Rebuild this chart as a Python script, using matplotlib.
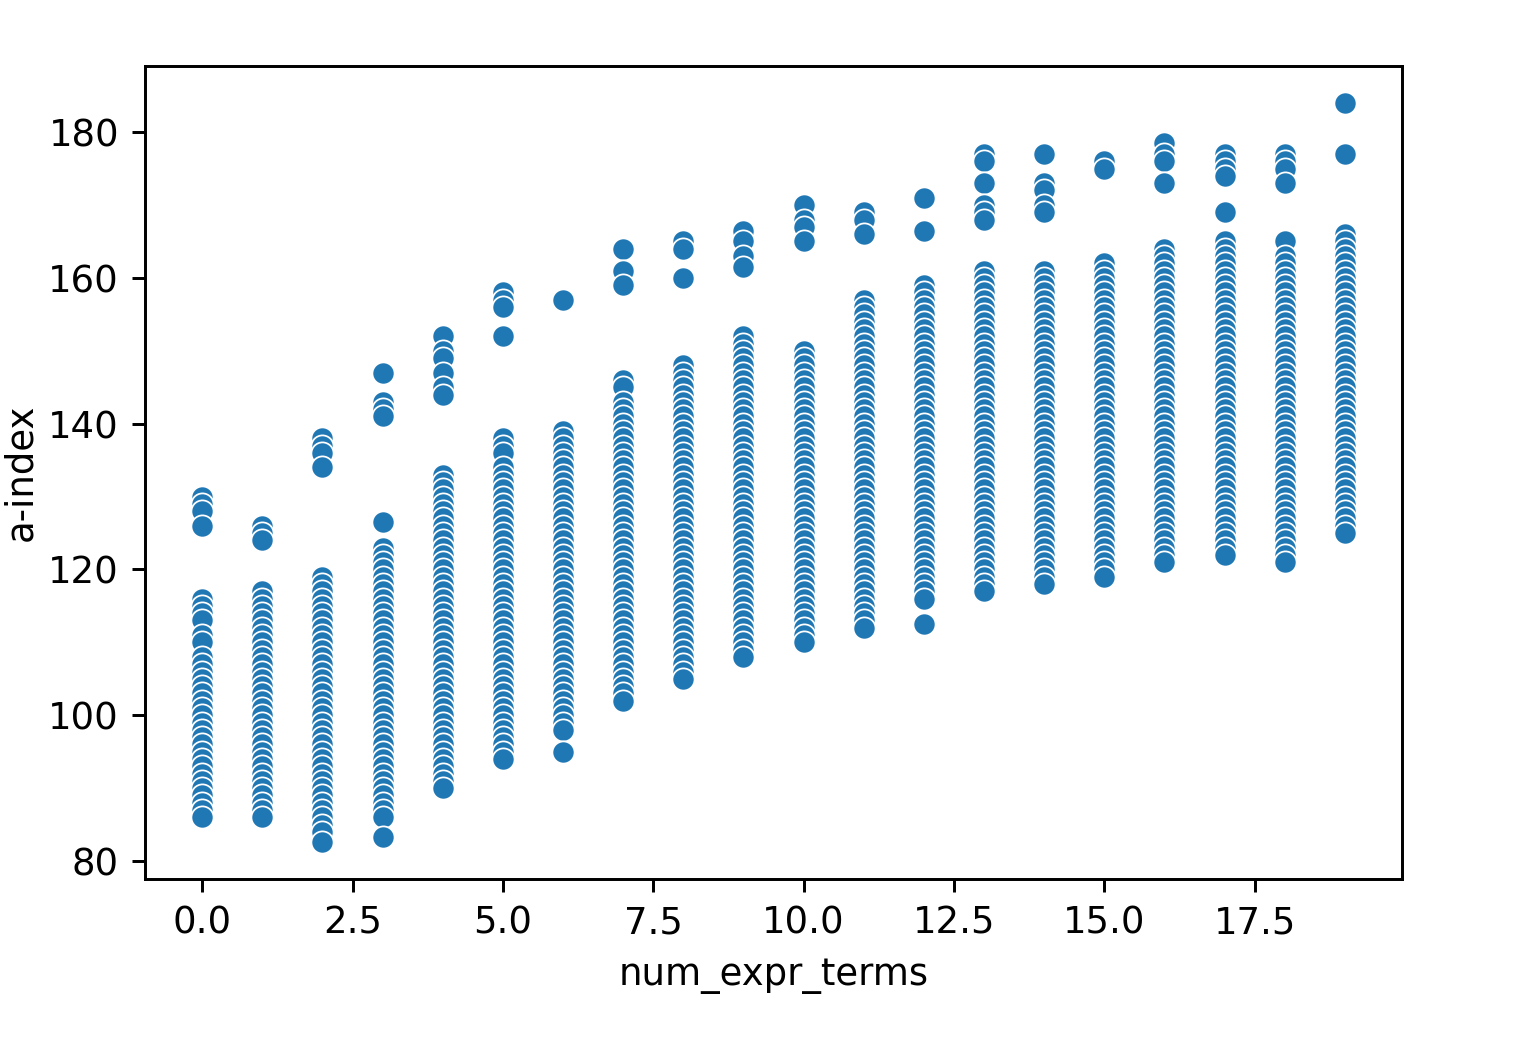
import numpy as np
import matplotlib
matplotlib.use('Agg')
import matplotlib.pyplot as plt

# a-index values, one list per num_expr_terms value
a_index_0 = [130, 129, 128, 126,
             116, 115, 114, 113, 111, 110, 108, 107, 106, 105, 104, 103, 102, 101,
             100, 99, 98, 97, 96, 95, 94, 93, 92, 91, 90, 89, 88, 87, 86]
a_index_1 = [126, 125, 124,
             117, 116, 115, 114, 113, 112, 111, 110, 109, 108, 107, 106, 105, 104,
             103, 102, 101, 100, 99, 98, 97, 96, 95, 94, 93, 92, 91, 90, 89, 88, 87, 86]
a_index_2 = [138, 137, 136, 134,
             119, 118, 117, 116, 115, 114, 113, 112, 111, 110, 109, 108, 107, 106,
             105, 104, 103, 102, 101, 100, 99, 98, 97, 96, 95, 94, 93, 92, 91, 90,
             89, 88, 87, 86, 85, 84, 82.6]
a_index_3 = [147, 143, 142, 141, 126.5,
             123, 122, 121, 120, 119, 118, 117, 116, 115, 114, 113, 112, 111, 110,
             109, 108, 107, 106, 105, 104, 103, 102, 101, 100, 99, 98, 97, 96, 95,
             94, 93, 92, 91, 90, 89, 88, 87, 86, 83.3]
a_index_4 = [152, 150, 149, 147, 145, 144,
             133, 132, 131, 130, 129, 128, 127, 126, 125, 124, 123, 122, 121, 120,
             119, 118, 117, 116, 115, 114, 113, 112, 111, 110, 109, 108, 107, 106,
             105, 104, 103, 102, 101, 100, 99, 98, 97, 96, 95, 94, 93, 92, 91, 90]
a_index_5 = [158, 157, 156, 152,
             138, 137, 136, 134, 133, 132, 131, 130, 129, 128, 127, 126, 125, 124,
             123, 122, 121, 120, 119, 118, 117, 116, 115, 114, 113, 112, 111, 110,
             109, 108, 107, 106, 105, 104, 103, 102, 101, 100, 99, 98, 97, 96, 95, 94]
a_index_6 = [157,
             139, 138, 137, 136, 135, 134, 133, 132, 131, 130, 129, 128, 127, 126,
             125, 124, 123, 122, 121, 120, 119, 118, 117, 116, 115, 114, 113, 112,
             111, 110, 109, 108, 107, 106, 105, 104, 103, 102, 101, 100, 99, 98, 95]
a_index_7 = [164, 161, 159,
             146, 145, 143, 142, 141, 140, 139, 138, 137, 136, 135, 134, 133, 132,
             131, 130, 129, 128, 127, 126, 125, 124, 123, 122, 121, 120, 119, 118,
             117, 116, 115, 114, 113, 112, 111, 110, 109, 108, 107, 106, 105, 104,
             103, 102]
a_index_8 = [165, 164, 160,
             148, 147, 146, 145, 144, 143, 142, 141, 140, 139, 138, 137, 136, 135,
             134, 133, 132, 131, 130, 129, 128, 127, 126, 125, 124, 123, 122, 121,
             120, 119, 118, 117, 116, 115, 114, 113, 112, 111, 110, 109, 108, 107,
             106, 105]
a_index_9 = [166.5, 165, 163, 161.5,
             152, 151, 150, 149, 148, 147, 146, 145, 144, 143, 142, 141, 140, 139,
             138, 137, 136, 135, 134, 133, 132, 131, 130, 129, 128, 127, 126, 125,
             124, 123, 122, 121, 120, 119, 118, 117, 116, 115, 114, 113, 112, 111,
             110, 109, 108]
a_index_10 = [170, 168, 167, 165,
              150, 149, 148, 147, 146, 145, 144, 143, 142, 141, 140, 139, 138, 137,
              136, 135, 134, 133, 132, 131, 130, 129, 128, 127, 126, 125, 124, 123,
              122, 121, 120, 119, 118, 117, 116, 115, 114, 113, 112, 111, 110]
a_index_11 = [169, 168, 166,
              157, 156, 155, 154, 153, 152, 151, 150, 149, 148, 147, 146, 145, 144,
              143, 142, 141, 140, 139, 138, 137, 136, 135, 134, 133, 132, 131, 130,
              129, 128, 127, 126, 125, 124, 123, 122, 121, 120, 119, 118, 117, 116,
              115, 114, 113, 112]
a_index_12 = [171, 166.5,
              159, 158, 157, 156, 155, 154, 153, 152, 151, 150, 149, 148, 147, 146,
              145, 144, 143, 142, 141, 140, 139, 138, 137, 136, 135, 134, 133, 132,
              131, 130, 129, 128, 127, 126, 125, 124, 123, 122, 121, 120, 119, 118,
              117, 116, 112.5]
a_index_13 = [177, 176, 173, 170, 169, 168,
              161, 160, 159, 158, 157, 156, 155, 154, 153, 152, 151, 150, 149, 148,
              147, 146, 145, 144, 143, 142, 141, 140, 139, 138, 137, 136, 135, 134,
              133, 132, 131, 130, 129, 128, 127, 126, 125, 124, 123, 122, 121, 120,
              119, 118, 117]
a_index_14 = [177, 173, 172, 170, 169,
              161, 160, 159, 158, 157, 156, 155, 154, 153, 152, 151, 150, 149, 148,
              147, 146, 145, 144, 143, 142, 141, 140, 139, 138, 137, 136, 135, 134,
              133, 132, 131, 130, 129, 128, 127, 126, 125, 124, 123, 122, 121, 120,
              119, 118]
a_index_15 = [176, 175,
              162, 161, 160, 159, 158, 157, 156, 155, 154, 153, 152, 151, 150, 149,
              148, 147, 146, 145, 144, 143, 142, 141, 140, 139, 138, 137, 136, 135,
              134, 133, 132, 131, 130, 129, 128, 127, 126, 125, 124, 123, 122, 121,
              120, 119]
a_index_16 = [178.5, 177, 176, 173,
              164, 163, 162, 161, 160, 159, 158, 157, 156, 155, 154, 153, 152, 151,
              150, 149, 148, 147, 146, 145, 144, 143, 142, 141, 140, 139, 138, 137,
              136, 135, 134, 133, 132, 131, 130, 129, 128, 127, 126, 125, 124, 123,
              122, 121]
a_index_17 = [177, 176, 175, 174, 169,
              165, 164, 163, 162, 161, 160, 159, 158, 157, 156, 155, 154, 153, 152,
              151, 150, 149, 148, 147, 146, 145, 144, 143, 142, 141, 140, 139, 138,
              137, 136, 135, 134, 133, 132, 131, 130, 129, 128, 127, 126, 125, 124,
              123, 122]
a_index_18 = [177, 176, 175, 173,
              165, 163, 162, 161, 160, 159, 158, 157, 156, 155, 154, 153, 152, 151,
              150, 149, 148, 147, 146, 145, 144, 143, 142, 141, 140, 139, 138, 137,
              136, 135, 134, 133, 132, 131, 130, 129, 128, 127, 126, 125, 124, 123,
              122, 121]
a_index_19 = [184, 177,
              166, 165, 164, 163, 162, 161, 160, 159, 158, 157, 156, 155, 154, 153,
              152, 151, 150, 149, 148, 147, 146, 145, 144, 143, 142, 141, 140, 139,
              138, 137, 136, 135, 134, 133, 132, 131, 130, 129, 128, 127, 126, 125]

columns = [a_index_0, a_index_1, a_index_2, a_index_3, a_index_4, a_index_5,
           a_index_6, a_index_7, a_index_8, a_index_9, a_index_10, a_index_11,
           a_index_12, a_index_13, a_index_14, a_index_15, a_index_16, a_index_17,
           a_index_18, a_index_19]

num_expr_terms = np.concatenate([[i] * len(col) for i, col in enumerate(columns)])
a_index = np.concatenate(columns)

# original looks like a 72 dpi notebook figure blown up ~3.7x
dpi = 266.4
fig = plt.figure(figsize=(1520 / dpi, 1040 / dpi), dpi=dpi)
ax = fig.add_axes([0.0954, 0.1548, 0.827, 0.7817])

ax.scatter(num_expr_terms, a_index, s=36, color='#1f77b4',
           edgecolor='white', linewidth=0.48)
ax.set_xlabel('num_expr_terms')
ax.set_ylabel('a-index', labelpad=2.5)

plt.savefig('out.png', dpi=dpi)
